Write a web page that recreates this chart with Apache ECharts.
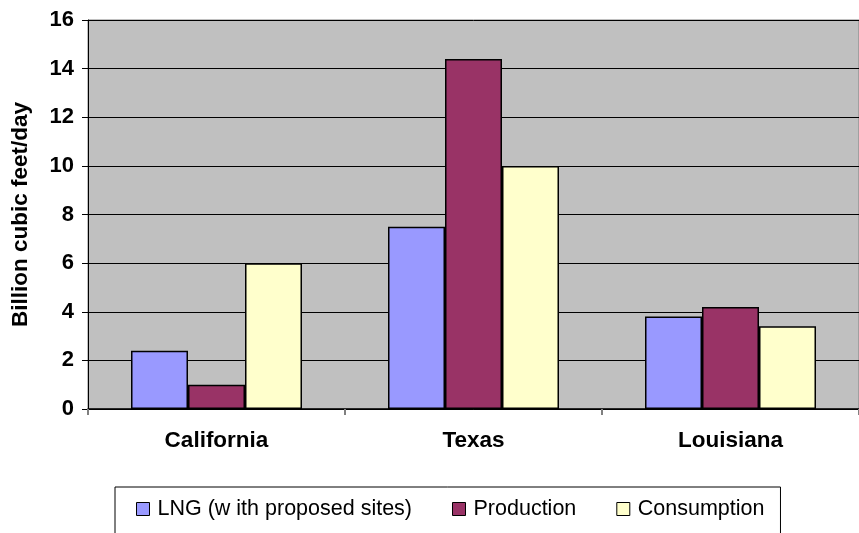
<!DOCTYPE html>
<html>
<head>
<meta charset="utf-8" />
<script src="https://cdn.jsdelivr.net/npm/echarts@6/dist/echarts.min.js"></script>
<style>
  html, body { margin: 0; padding: 0; background: #fff; }
  #main { width: 859px; height: 533px; }
</style>
</head>
<body>
<div id="main"></div>
<script type="text/javascript">
var states = ['California', 'Texas', 'Louisiana'];
var lngData = [2.4, 7.5, 3.8];
var productionData = [1.0, 14.4, 4.2];
var consumptionData = [6.0, 10.0, 3.4];
var yTicks = [0, 2, 4, 6, 8, 10, 12, 14, 16];

var font = 'Liberation Sans, Arial, sans-serif';
var myChart = echarts.init(document.getElementById('main'));

function barSeries(name, data, color) {
    return {
        name: name,
        type: 'bar',
        data: data,
        barWidth: 57,
        barGap: '0%',
        itemStyle: { color: color, borderColor: '#000', borderWidth: 1.5 },
        emphasis: { disabled: true }
    };
}

var option = {
    animation: false,
    textStyle: { fontFamily: font },
    grid: {
        left: 88,
        top: 20,
        width: 775,
        height: 389,
        show: true,
        backgroundColor: '#c0c0c0',
        borderColor: '#808080',
        borderWidth: 1
    },
    legend: {
        left: 115,
        top: 487,
        orient: 'horizontal',
        data: ['LNG (w ith proposed sites)', 'Production', 'Consumption'],
        icon: 'rect',
        itemWidth: 13,
        itemHeight: 13,
        itemGap: 40,
        padding: [11, 16, 40, 21],
        borderColor: '#000',
        borderWidth: 1,
        textStyle: { fontFamily: font, fontSize: 21.5, color: '#000', padding: [0, 0, 0, 3] },
        itemStyle: { borderColor: '#000', borderWidth: 1 }
    },
    xAxis: {
        type: 'category',
        data: states,
        axisLine: { lineStyle: { color: '#000', width: 1.5 } },
        axisTick: { show: true, length: 6, lineStyle: { color: '#808080', width: 2 } },
        axisLabel: { fontFamily: font, fontSize: 22.5, fontWeight: 'bold', color: '#000', margin: 20 }
    },
    yAxis: {
        type: 'value',
        min: yTicks[0],
        max: yTicks[yTicks.length - 1],
        interval: 2,
        name: 'Billion cubic feet/day',
        nameLocation: 'middle',
        nameGap: 56,
        nameTextStyle: { fontFamily: font, fontSize: 22.5, fontWeight: 'bold', color: '#000' },
        axisLine: { show: true, lineStyle: { color: '#000', width: 1 } },
        axisTick: { show: true, length: 6, lineStyle: { color: '#000' } },
        axisLabel: { fontFamily: font, fontSize: 22, fontWeight: 'bold', color: '#000', margin: 14 },
        splitLine: { show: true, lineStyle: { color: '#000', width: 1 } }
    },
    series: [
        barSeries('LNG (w ith proposed sites)', lngData, '#9999ff'),
        barSeries('Production', productionData, '#993366'),
        barSeries('Consumption', consumptionData, '#ffffcc')
    ]
};
myChart.setOption(option);
</script>
</body>
</html>
